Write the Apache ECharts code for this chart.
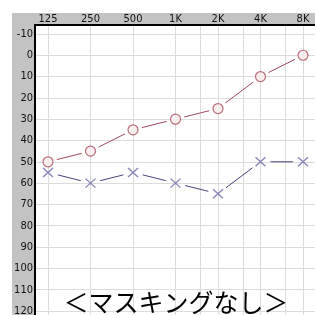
<!DOCTYPE html>
<html>
<head>
<meta charset="utf-8">
<script src="https://cdn.jsdelivr.net/npm/echarts@6/dist/echarts.min.js"></script>
<style>
  html, body { margin: 0; padding: 0; background: #fff; }
  #main { width: 315px; height: 315px; }
</style>
</head>
<body>
<div id="main"></div>
<script>
// frequencies (Hz) and hearing levels (dB)
var freqs = [125, 250, 500, 1000, 2000, 4000, 8000];
var freqLabels = ["125", "250", "500", "1K", "2K", "4K", "8K"];
var halfFreqs = [1500, 3000, 6000];
var rightEar = [50, 45, 35, 30, 25, 10, 0];   // red circles
var leftEar = [55, 60, 55, 60, 65, 50, 50];   // blue crosses
var dbTicks = [-10, 0, 10, 20, 30, 40, 50, 60, 70, 80, 90, 100, 110, 120];
var title = "＜マスキングなし＞";

// octave position from 125Hz
function oct(f) { return Math.log2(f / 125); }

var octTicks = freqs.map(oct);
var gridTicks = freqs.concat(halfFreqs).map(oct);

function points(vals) {
  return freqs.map(function (f, i) { return [oct(f), vals[i]]; });
}
function segments(vals) {
  var s = [];
  for (var i = 0; i < freqs.length - 1; i++) {
    s.push([oct(freqs[i]), vals[i], oct(freqs[i + 1]), vals[i + 1]]);
  }
  return s;
}
// line between markers, cut short so it does not touch them
function gapLine(color, gap) {
  return function (params, api) {
    var p1 = api.coord([api.value(0), api.value(1)]);
    var p2 = api.coord([api.value(2), api.value(3)]);
    var dx = p2[0] - p1[0], dy = p2[1] - p1[1];
    var len = Math.sqrt(dx * dx + dy * dy);
    var ux = dx / len, uy = dy / len;
    return {
      type: "line",
      shape: {
        x1: p1[0] + ux * gap, y1: p1[1] + uy * gap,
        x2: p2[0] - ux * gap, y2: p2[1] - uy * gap
      },
      style: { stroke: color, lineWidth: 1 }
    };
  };
}

var labelFont = "'Liberation Sans Narrow', 'DejaVu Sans Condensed', 'Liberation Sans', sans-serif";

var chart = echarts.init(document.getElementById("main"));
chart.setOption({
  animation: false,
  backgroundColor: "#fff",
  graphic: [
    {
      type: "rect", z: -100, silent: true,
      shape: { x: 12, y: 13, width: 303, height: 302 },
      style: { fill: "#c3c3c3" }
    },
    {
      type: "rect", z: -99, silent: true,
      shape: { x: 35, y: 25, width: 280, height: 290 },
      style: { fill: "#fff" }
    },
    {
      type: "text", z: 100, x: 176, y: 302,
      style: {
        text: title, fill: "#000", fontSize: 25,
        textAlign: "center", textVerticalAlign: "middle",
        fontFamily: "'Noto Sans CJK JP', sans-serif"
      }
    }
  ],
  grid: { left: 35, right: 0, top: 25, bottom: 0, outerBoundsMode: "none", containLabel: false },
  xAxis: {
    type: "value",
    position: "top",
    min: -0.306,
    max: 6.282,
    axisLine: { show: true, onZero: false, lineStyle: { color: "#000", width: 2 } },
    axisTick: { show: false, customValues: gridTicks },
    axisLabel: {
      customValues: octTicks,
      margin: 0,
      color: "#111",
      fontSize: 11,
      fontFamily: labelFont,
      formatter: function (v) {
        var i = octTicks.findIndex(function (t) { return Math.abs(t - v) < 1e-6; });
        return i >= 0 ? freqLabels[i] : "";
      }
    },
    splitLine: { show: true, lineStyle: { color: "#dcdcdc", width: 1 } }
  },
  yAxis: {
    type: "value",
    inverse: true,
    min: -14.2,
    max: 121.9,
    axisLine: { show: true, onZero: false, lineStyle: { color: "#000", width: 2 } },
    axisTick: { show: false, customValues: dbTicks },
    axisLabel: {
      customValues: dbTicks,
      margin: 2,
      color: "#111",
      fontSize: 11,
      fontFamily: labelFont
    },
    splitLine: { show: true, lineStyle: { color: "#dcdcdc", width: 1 } }
  },
  series: [
    {
      type: "custom",
      renderItem: gapLine("#a24a5c", 9),
      data: segments(rightEar),
      encode: { x: [0, 2], y: [1, 3] },
      z: 3
    },
    {
      type: "custom",
      renderItem: gapLine("#44447e", 10),
      data: segments(leftEar),
      encode: { x: [0, 2], y: [1, 3] },
      z: 3
    },
    {
      type: "scatter",
      data: points(rightEar),
      symbol: "circle",
      symbolSize: 10,
      itemStyle: { color: "#faeeee", borderColor: "#a84a5a", borderWidth: 1.2 },
      z: 4
    },
    {
      type: "scatter",
      data: points(leftEar),
      symbol: "path://M0,0L10,9M10,0L0,9",
      symbolSize: [10, 9],
      symbolKeepAspect: false,
      itemStyle: { color: "none", borderColor: "#6a6aa6", borderWidth: 1.3 },
      z: 4
    }
  ]
});
</script>
</body>
</html>
